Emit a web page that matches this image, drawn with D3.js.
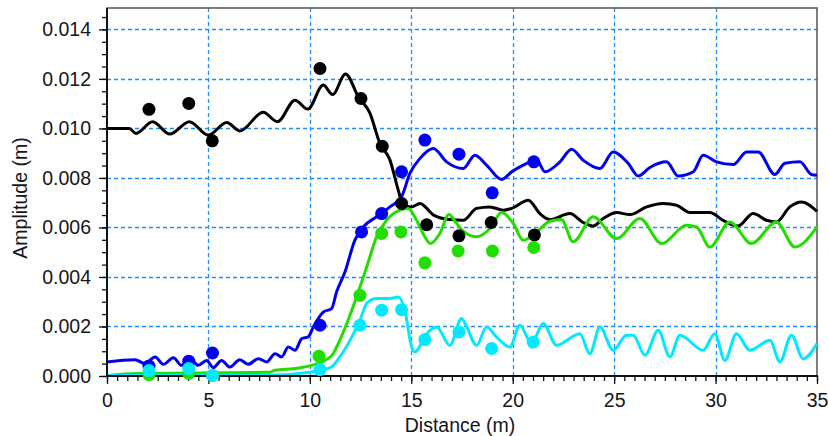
<!DOCTYPE html>
<html>
<head>
<meta charset="utf-8">
<script src="https://cdn.jsdelivr.net/npm/d3@7"></script>
<style>
  body { margin: 0; background: #fff; }
  svg text { font-family: "Liberation Sans", Arial, sans-serif; fill: #151520; }
</style>
</head>
<body>
<div id="chart"></div>
<script>
// simulated amplitude along the flume, one series per harmonic
const simFirst = [[0,0.0100],[1.1,0.0100],[1.43,0.0098],[2.25,0.01027],[3.1,0.00977],[4.06,0.01027],[5.0,0.00973],[5.9,0.01024],[6.55,0.0099],[7.7,0.01065],[8.4,0.01027],[9.27,0.01114],[9.9,0.01078],[10.66,0.01175],[11.12,0.01137],[11.76,0.0122],[12.39,0.01128],[12.96,0.01062],[13.45,0.0094],[13.95,0.00872],[14.36,0.0075],[14.6,0.0069],[15.0,0.00683],[15.43,0.00697],[16.1,0.0065],[16.9,0.00632],[17.56,0.00629],[18.22,0.00677],[18.88,0.00683],[19.53,0.0067],[19.95,0.00677],[20.77,0.0071],[21.34,0.00656],[21.83,0.00632],[22.82,0.00656],[23.47,0.0062],[23.97,0.00606],[24.46,0.00636],[25.12,0.0066],[25.78,0.00652],[26.6,0.00683],[27.42,0.00697],[28.08,0.0069],[28.73,0.0066],[29.72,0.0066],[30.37,0.00629],[31.11,0.00606],[31.85,0.00656],[32.51,0.00629],[33.0,0.00622],[33.66,0.00683],[34.24,0.00703],[35,0.00665]];
const simSecond = [[0,0.00057],[1.38,0.00066],[1.87,0.0005],[2.37,0.00077],[2.78,0.00047],[3.27,0.00074],[3.68,0.00043],[4.09,0.0007],[4.5,0.00043],[4.91,0.00063],[5.24,0.00034],[5.65,0.00063],[6.06,0.00036],[6.55,0.00066],[6.96,0.00047],[7.46,0.0007],[7.87,0.00057],[8.28,0.0009],[8.61,0.00077],[8.94,0.00117],[9.27,0.00104],[9.6,0.00151],[9.92,0.00158],[10.17,0.00198],[10.66,0.00258],[11.07,0.00272],[11.32,0.0034],[11.73,0.0042],[12.22,0.00549],[12.63,0.00602],[13.29,0.00643],[13.95,0.00683],[14.52,0.00724],[14.93,0.00818],[15.43,0.00879],[16.09,0.00919],[16.74,0.00865],[17.56,0.00838],[18.14,0.00892],[18.71,0.00852],[19.45,0.00794],[19.95,0.00825],[20.52,0.00852],[21.18,0.00872],[21.59,0.00825],[22.33,0.00865],[22.9,0.00916],[23.47,0.00872],[24.3,0.00838],[24.95,0.00905],[25.69,0.00859],[26.19,0.00808],[26.76,0.00842],[27.58,0.00865],[28.16,0.00808],[28.9,0.00825],[29.39,0.00892],[30.05,0.00865],[30.87,0.00854],[31.53,0.00905],[32.1,0.00905],[32.92,0.00814],[33.42,0.00859],[34.16,0.00865],[34.73,0.00814],[35,0.00811]];
const simThird = [[0,0.00002],[1.5,0.0001],[8.0,0.00015],[8.28,0.00023],[9.27,0.0003],[10.09,0.00043],[10.74,0.00063],[11.15,0.0009],[11.4,0.00131],[11.81,0.0021],[12.3,0.00319],[12.8,0.0044],[13.29,0.00562],[13.78,0.00629],[14.44,0.0067],[14.85,0.00677],[15.26,0.00629],[15.67,0.00562],[15.95,0.00535],[16.41,0.00576],[16.85,0.00652],[17.2,0.0062],[17.56,0.00585],[18.22,0.00562],[18.88,0.00596],[19.45,0.0066],[20.03,0.00616],[20.52,0.00548],[21.18,0.00582],[21.83,0.00625],[22.4,0.00632],[22.98,0.00542],[23.97,0.00643],[25.12,0.00555],[26.27,0.00636],[27.34,0.00535],[28.57,0.00609],[29.06,0.00602],[29.72,0.00521],[30.7,0.00622],[31.77,0.00535],[33.0,0.00622],[33.91,0.00521],[35,0.00602]];
const simFourth = [[0,0.00002],[8,0.00003],[10.09,0.00016],[10.66,0.00025],[11.07,0.00036],[11.48,0.00077],[11.98,0.00144],[12.47,0.00225],[12.8,0.00293],[13.29,0.00313],[13.95,0.00313],[14.36,0.00319],[14.69,0.00262],[15.02,0.00117],[15.18,0.00097],[15.76,0.00171],[16.25,0.00198],[16.9,0.00124],[17.48,0.00232],[17.73,0.00198],[18.22,0.00124],[18.71,0.00198],[19.2,0.00158],[19.86,0.00117],[20.35,0.00205],[20.93,0.00131],[21.5,0.00212],[22.16,0.00124],[23.31,0.00171],[23.8,0.0009],[24.3,0.00198],[24.95,0.00104],[25.61,0.00165],[25.94,0.00165],[26.52,0.00084],[27.17,0.00185],[27.75,0.00077],[28.24,0.00165],[29.39,0.00104],[29.96,0.00171],[30.46,0.00063],[31.03,0.00171],[31.69,0.00104],[32.68,0.00144],[33.17,0.00057],[33.74,0.00165],[34.32,0.0007],[35,0.00131]];

// measured values at the wave gauges
const obsFirst = [[2.07,0.01077],[4.03,0.01101],[5.19,0.0095],[10.5,0.01242],[12.52,0.01121],[13.57,0.00928],[14.52,0.00697],[15.76,0.00611],[17.35,0.00566],[18.94,0.0062],[21.07,0.0057]];
const obsSecond = [[2.07,0.0004],[4.03,0.0006],[5.2,0.00093],[10.5,0.00205],[12.55,0.00582],[13.54,0.00656],[14.52,0.00825],[15.67,0.00953],[17.35,0.00896],[18.99,0.0074],[21.04,0.00865]];
const obsThird = [[2.07,0.00005],[4.03,0.0001],[5.2,0.00002],[10.45,0.0008],[12.47,0.00326],[13.54,0.00576],[14.49,0.00582],[15.67,0.00457],[17.31,0.00505],[19.0,0.00505],[21.04,0.00519]];
const obsFourth = [[2.07,0.00022],[4.03,0.0003],[5.2,0.00002],[10.5,0.00026],[12.47,0.00205],[13.54,0.00266],[14.52,0.00268],[15.67,0.00147],[17.35,0.00178],[18.96,0.00111],[21.01,0.00137]];

const xTicks = [0, 5, 10, 15, 20, 25, 30, 35];
const yTicks = [0, 0.002, 0.004, 0.006, 0.008, 0.010, 0.012, 0.014];

const W = 829, H = 436;
const plotLeft = 107, plotRight = 817, plotTop = 8, plotBottom = 376;
const fontSize = 19.5;

const svg = d3.select("#chart").append("svg")
    .attr("width", W)
    .attr("height", H);

const x = d3.scaleLinear().domain([0, 35]).range([plotLeft, plotRight]);
const y = d3.scaleLinear().domain([0, 0.014]).range([plotBottom, 29.4]);

// grid
const grid = svg.append("g")
    .attr("stroke", "#1e8fff")
    .attr("stroke-width", 1.3)
    .attr("stroke-dasharray", "4,3");
yTicks.filter(d => d > 0).forEach(d => {
    grid.append("line")
        .attr("x1", plotLeft).attr("x2", plotRight)
        .attr("y1", Math.round(y(d)) + 0.5).attr("y2", Math.round(y(d)) + 0.5);
});
xTicks.filter(d => d > 0 && d < 35).forEach(d => {
    grid.append("line")
        .attr("x1", Math.round(x(d)) + 0.5).attr("x2", Math.round(x(d)) + 0.5)
        .attr("y1", plotBottom).attr("y2", plotTop);
});

// frame
svg.append("rect")
    .attr("x", plotLeft).attr("y", plotTop)
    .attr("width", plotRight - plotLeft).attr("height", plotBottom - plotTop)
    .attr("fill", "none")
    .attr("stroke", "#555")
    .attr("stroke-width", 1.5);

// simulated lines
const line = d3.line()
    .x(d => x(d[0]))
    .y(d => y(d[1]))
    .curve(d3.curveMonotoneX);

const series = [
    { data: simFirst, color: "#000000" },
    { data: simSecond, color: "#0000ee" },
    { data: simThird, color: "#22dd00" },
    { data: simFourth, color: "#00eaff" }
];

series.forEach(s => {
    svg.append("path")
        .datum(s.data)
        .attr("d", line)
        .attr("fill", "none")
        .attr("stroke", s.color)
        .attr("stroke-width", 3)
        .attr("stroke-linejoin", "round");
});

// axes
const xAxis = svg.append("g")
    .attr("transform", `translate(0,${plotBottom})`)
    .call(d3.axisBottom(x).tickValues(xTicks).tickSize(8).tickFormat(d3.format("d")));
svg.append("g")
    .attr("transform", `translate(0,${plotBottom})`)
    .call(d3.axisBottom(x).tickValues(d3.range(0, 35.01, 0.5)).tickSize(5).tickFormat(""));

const yAxis = svg.append("g")
    .attr("transform", `translate(${plotLeft},0)`)
    .call(d3.axisLeft(y).tickValues(yTicks).tickSize(8).tickFormat(d3.format(".3f")));
svg.append("g")
    .attr("transform", `translate(${plotLeft},0)`)
    .call(d3.axisLeft(y).tickValues(d3.range(0, 0.01476, 0.0005)).tickSize(5).tickFormat(""));

svg.selectAll(".domain").remove();
svg.selectAll(".tick line").attr("stroke", "#111").attr("stroke-width", 1.3);
xAxis.selectAll("text").attr("font-size", fontSize).attr("dy", "1.0em").attr("fill", "#151520");
yAxis.selectAll("text").attr("font-size", fontSize).attr("x", -16).attr("fill", "#151520");

svg.append("line")
    .attr("x1", plotLeft).attr("x2", plotLeft)
    .attr("y1", plotTop).attr("y2", plotBottom + 1)
    .attr("stroke", "#111").attr("stroke-width", 2);
svg.append("line")
    .attr("x1", plotLeft - 1).attr("x2", plotRight + 1)
    .attr("y1", plotBottom).attr("y2", plotBottom)
    .attr("stroke", "#111").attr("stroke-width", 2);

// gauge measurements
const dots = [
    { data: obsFirst, color: "#000000" },
    { data: obsSecond, color: "#0000ee" },
    { data: obsThird, color: "#22dd00" },
    { data: obsFourth, color: "#00eaff" }
];

dots.forEach(s => {
    svg.append("g").selectAll("circle")
        .data(s.data)
        .join("circle")
        .attr("cx", d => x(d[0]))
        .attr("cy", d => y(d[1]))
        .attr("r", 6.5)
        .attr("fill", s.color);
});

// axis titles
svg.append("text")
    .attr("x", 460)
    .attr("y", 432)
    .attr("text-anchor", "middle")
    .attr("font-size", fontSize)
    .text("Distance (m)");

svg.append("text")
    .attr("transform", `translate(27,${(plotTop + plotBottom) / 2 + 6}) rotate(-90)`)
    .attr("text-anchor", "middle")
    .attr("font-size", fontSize)
    .text("Amplitude (m)");
</script>
</body>
</html>
